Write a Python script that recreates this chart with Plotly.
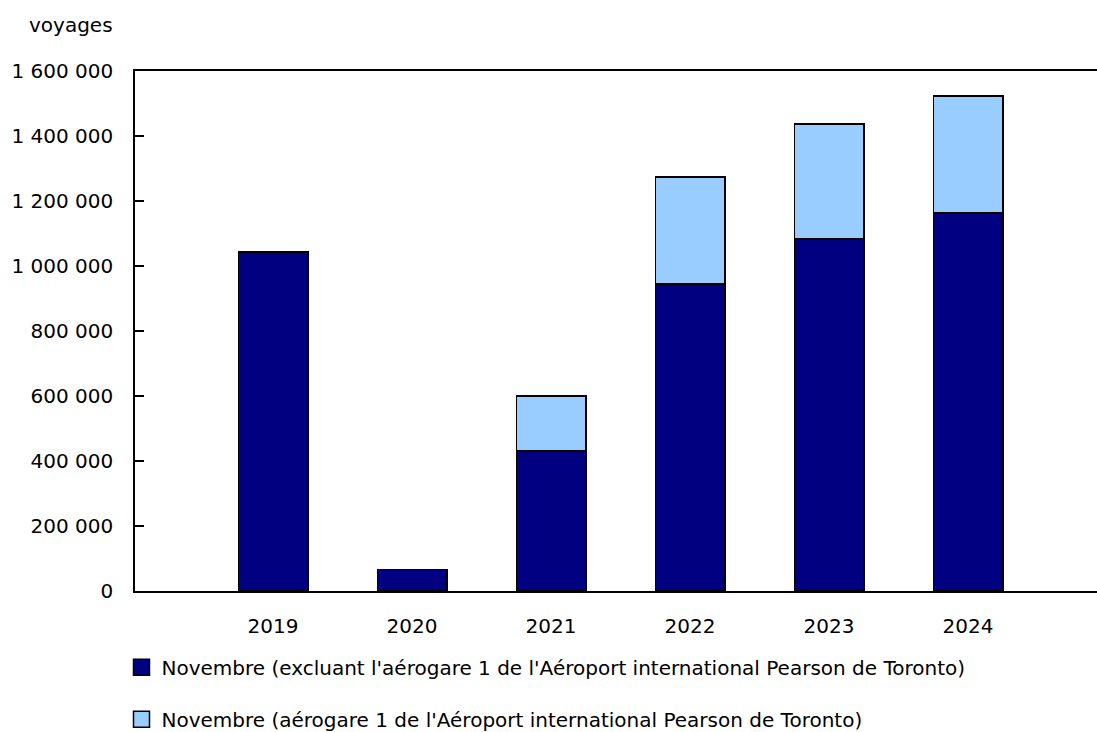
import plotly.graph_objects as go

years = ["2019", "2020", "2021", "2022", "2023", "2024"]
excl_t1 = [1043000, 66000, 431000, 945000, 1083000, 1163000]
t1 = [0, 0, 169000, 329000, 354000, 360000]
name_excl = "Novembre (excluant l'aérogare 1 de l'Aéroport international Pearson de Toronto)"
name_t1 = "Novembre (aérogare 1 de l'Aéroport international Pearson de Toronto)"
ytick_vals = [0, 200000, 400000, 600000, 800000, 1000000, 1200000, 1400000, 1600000]
ytick_text = ["0", "200 000", "400 000", "600 000", "800 000", "1 000 000", "1 200 000", "1 400 000", "1 600 000"]

FONT = "Verdana, DejaVu Sans, sans-serif"
DARK = "#000080"
LIGHT = "#99CCFF"
xpos = list(range(len(years)))

W, H = 1097, 732
ML, MT, MB = 135, 71, 141
PW = W - ML
PH = H - MT - MB

fig = go.Figure()
fig.add_trace(go.Bar(
    x=xpos, y=excl_t1, name=name_excl, width=0.5, showlegend=False,
    marker=dict(color=DARK, line=dict(color="#000000", width=1.5)),
))
fig.add_trace(go.Bar(
    x=xpos, y=[v if v else None for v in t1], name=name_t1, width=0.5, showlegend=False,
    marker=dict(color=LIGHT, line=dict(color="#000000", width=1.5)),
))
# legend entries with larger square swatches
for nm, col, grp in [(name_excl, DARK, "a"), (name_t1, LIGHT, "b")]:
    fig.add_trace(go.Scatter(
        x=[None], y=[None], mode="markers", name=nm, legendgroup=grp,
        marker=dict(symbol="square", size=16, color=col, line=dict(color="#000000", width=1.5)),
    ))

fig.update_layout(
    barmode="stack",
    width=W, height=H,
    margin=dict(l=ML, r=0, t=MT, b=MB, autoexpand=False),
    paper_bgcolor="white", plot_bgcolor="white",
    font=dict(family=FONT, size=20, color="#000000"),
    showlegend=True,
    legend=dict(
        x=(121.5 - ML) / PW, xanchor="left", y=-0.109, yanchor="top",
        traceorder="grouped", tracegroupgap=23,
        font=dict(family=FONT, size=20, color="#000000"),
        itemwidth=30,
    ),
    xaxis=dict(
        range=[-0.993, -0.993 + PW / 139.0],
        tickmode="array", tickvals=xpos, ticktext=years,
        showline=True, linecolor="#000000", linewidth=1.5, mirror=True,
        ticks="", showgrid=False, zeroline=False,
        ticklabelstandoff=16,
    ),
    yaxis=dict(
        range=[0, 1600000],
        tickmode="array", tickvals=ytick_vals, ticktext=ytick_text,
        showline=True, linecolor="#000000", linewidth=1.5,
        ticks="inside", ticklen=9, tickcolor="#000000", tickwidth=1.5,
        showgrid=False, zeroline=False,
        ticklabelstandoff=16,
    ),
    annotations=[dict(
        text="voyages", xref="paper", yref="paper",
        x=(27 - ML) / PW, y=(MT + PH - 25) / PH,
        xanchor="left", yanchor="middle", showarrow=False,
        font=dict(family=FONT, size=20, color="#000000"),
    )],
)

fig.write_html(
    "out.html",
    config={"displayModeBar": False},
    post_script="document.body.style.margin='0';document.body.style.overflow='hidden';",
)
